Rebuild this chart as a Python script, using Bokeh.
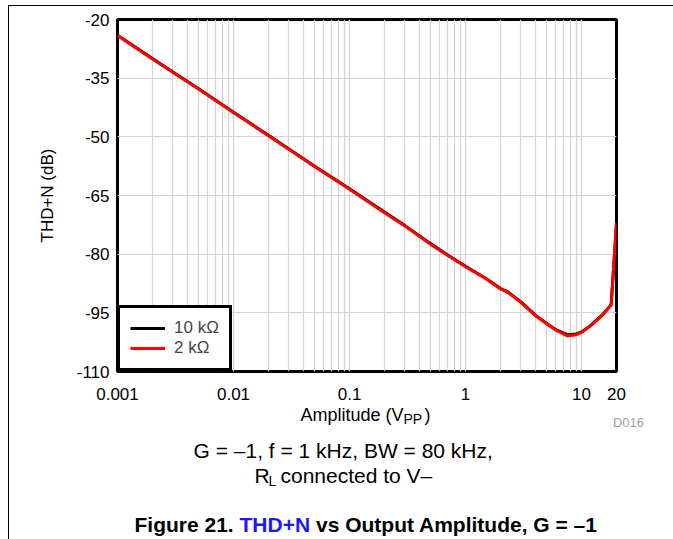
from bokeh.plotting import figure
from bokeh.models import FixedTicker, Label, Legend, LegendItem, Range1d, Spacer
from bokeh.layouts import column, row
from bokeh.embed import file_html
from bokeh.resources import INLINE

# ---- data ----
amplitude_vpp = [0.001, 0.002, 0.003, 0.005, 0.01, 0.02, 0.03, 0.05, 0.1, 0.2, 0.3, 0.5,
                 0.7, 1.0, 1.5, 2.0, 2.3, 3.0, 4.0, 5.0, 6.0, 7.0, 7.5, 9.0, 10.0, 12.0,
                 15.0, 18.0, 20.0]
thdn_10k = [-24.0, -30.0, -33.4, -37.7, -43.7, -49.6, -53.1, -57.5, -63.3, -69.2, -72.7, -77.3,
            -80.2, -83.1, -86.2, -88.8, -89.6, -92.2, -95.6, -97.7, -99.3, -100.2, -100.6, -100.4,
            -99.9, -98.2, -95.6, -92.9, -72.0]
thdn_2k = [-24.1, -30.1, -33.5, -37.8, -43.8, -49.7, -53.2, -57.6, -63.4, -69.4, -72.8, -77.5,
           -80.3, -83.2, -86.3, -88.9, -89.7, -92.3, -95.7, -97.8, -99.4, -100.4, -100.9, -100.6,
           -100.0, -98.3, -95.7, -93.0, -72.0]
x_major_ticks = [0.001, 0.01, 0.1, 1, 10, 20]
x_tick_labels = ["0.001", "0.01", "0.1", "1", "10", "20"]
y_ticks = [-110, -95, -80, -65, -50, -35, -20]
y_tick_labels = ["-110", "-95", "-80", "-65", "-50", "-35", "-20"]
series_names = ["10 k\u03a9", "2 k\u03a9"]
series_colors = ["#000000", "#ff0000"]

x_minor_ticks = sorted(m * 10.0 ** e for e in range(-3, 1) for m in range(2, 10))

FONT = "Liberation Sans"
PAGE_W, PAGE_H = 673, 539
OX, OY = 9, 6                 # page position of the chart figure (after rules)
FW = PAGE_W - OX              # 664
FRAME_L, FRAME_T, FRAME_R, FRAME_B = 117, 19, 616, 371  # page px
MAIN_BOTTOM = 412             # page y of the chart figure's bottom edge
CAP_TOP = 400                 # page y where the (transparent) caption figure starts
H1 = MAIN_BOTTOM - OY
H2 = PAGE_H - CAP_TOP
OVERLAP = MAIN_BOTTOM - CAP_TOP
SHIFT = 7                     # measured offset of the caption canvas in the browser

p = figure(width=FW, height=H1, x_axis_type="log", x_range=(0.001, 20), y_range=(-110, -20),
           output_backend="svg", toolbar_location=None,
           min_border_left=FRAME_L - OX, min_border_top=FRAME_T - OY,
           min_border_right=OX + FW - FRAME_R, min_border_bottom=MAIN_BOTTOM - FRAME_B)
p.frame_align = False
p.background_fill_color = "white"
p.border_fill_color = "white"
p.outline_line_color = "black"
p.outline_line_width = 3

p.xaxis.ticker = FixedTicker(ticks=x_major_ticks, minor_ticks=x_minor_ticks)
p.yaxis.ticker = FixedTicker(ticks=y_ticks)
p.xaxis.major_label_overrides = {t: s for t, s in zip(x_major_ticks, x_tick_labels)}
p.yaxis.major_label_overrides = {t: s for t, s in zip(y_ticks, y_tick_labels)}
for ax in (p.xaxis, p.yaxis):
    ax.axis_line_color = None
    ax.major_tick_line_color = None
    ax.minor_tick_line_color = None
    ax.major_tick_out = 0
    ax.major_tick_in = 0
    ax.minor_tick_out = 0
    ax.minor_tick_in = 0
    ax.major_label_text_font = FONT
    ax.major_label_text_font_size = "17px"
    ax.major_label_text_color = "black"
p.xaxis.major_label_standoff = 16
p.yaxis.major_label_standoff = 8
p.yaxis.axis_label = "THD+N (dB)"
p.yaxis.axis_label_text_font = FONT
p.yaxis.axis_label_text_font_size = "17px"
p.yaxis.axis_label_text_font_style = "normal"
p.yaxis.axis_label_text_color = "black"
p.yaxis.axis_label_standoff = 17

p.xgrid.grid_line_color = "#d4d4d4"
p.xgrid.minor_grid_line_color = "#d4d4d4"
p.ygrid.grid_line_color = "#d4d4d4"
p.xgrid.grid_line_width = 1.2
p.xgrid.minor_grid_line_width = 1.2
p.ygrid.grid_line_width = 1.2

r1 = p.line(amplitude_vpp, thdn_10k, line_color=series_colors[0], line_width=3)
r2 = p.line(amplitude_vpp, thdn_2k, line_color=series_colors[1], line_width=3)

legend = Legend(items=[LegendItem(label=series_names[0], renderers=[r1]),
                       LegendItem(label=series_names[1], renderers=[r2])],
                location="bottom_left", margin=0, padding=10, spacing=0,
                border_line_color="black", border_line_width=3, border_line_alpha=1,
                background_fill_color="white", background_fill_alpha=1,
                glyph_width=35, glyph_height=20, label_height=20, label_standoff=9,
                label_text_font=FONT, label_text_font_size="17px")
p.add_layout(legend, "center")

# transparent caption figure below the chart: frame = whole canvas, 1 unit = 1 px
c = figure(frame_width=FW, frame_height=H2, x_range=Range1d(0, FW), y_range=Range1d(0, H2),
           output_backend="svg", toolbar_location=None,
           x_axis_location=None, y_axis_location=None,
           min_border=0, min_border_left=0, min_border_right=0,
           min_border_top=0, min_border_bottom=0,
           styles={"margin-top": f"-{OVERLAP}px"})
c.frame_align = False
c.outline_line_color = None
c.xgrid.visible = False
c.ygrid.visible = False
c.background_fill_alpha = 0
c.border_fill_alpha = 0


def lab(text, px, py, size, align="left", color="black", style="normal", shift=SHIFT):
    c.add_layout(Label(x=px - OX, y=PAGE_H - (py - shift), text=text, text_font=FONT,
                       text_font_size=size, text_color=color, text_font_style=style,
                       text_align=align, text_baseline="alphabetic"))


# x axis title with subscript
lab("Amplitude (V", 300, 419, "18px", shift=5)
lab("PP", 403, 423, "14px", shift=5)
lab(")", 424, 419, "18px", shift=5)
lab("D016", 628, 427, "13px", align="center", color="#a0a0a0", shift=5)

# captions
lab("G = \u20131, f = 1 kHz, BW = 80 kHz,", 193, 457, "21px")
lab("R", 254, 482, "21px")
lab("L", 268, 487, "14px")
lab("connected to V\u2013", 280, 482, "21px")

fs = 21
x0 = 134
lab("Figure 21.", x0, 531, f"{fs}px", style="bold")
x1 = x0 + (4.724 + 0.278) * fs
lab("THD+N", x1, 531, f"{fs}px", style="bold", color="#1a1aff")
x2 = x1 + (3.361 + 0.278) * fs
lab("vs Output Amplitude, G = \u20131", x2, 531, f"{fs}px", style="bold")

body = column(p, c, spacing=0,
              styles={"border-left": "1.5px solid black", "border-top": "1.5px solid black"})
root = column(Spacer(width=PAGE_W, height=5),
              row(Spacer(width=8, height=PAGE_H - 5 - 1), body, spacing=0), spacing=0)

open("out.html", "w").write(file_html(root, INLINE))
